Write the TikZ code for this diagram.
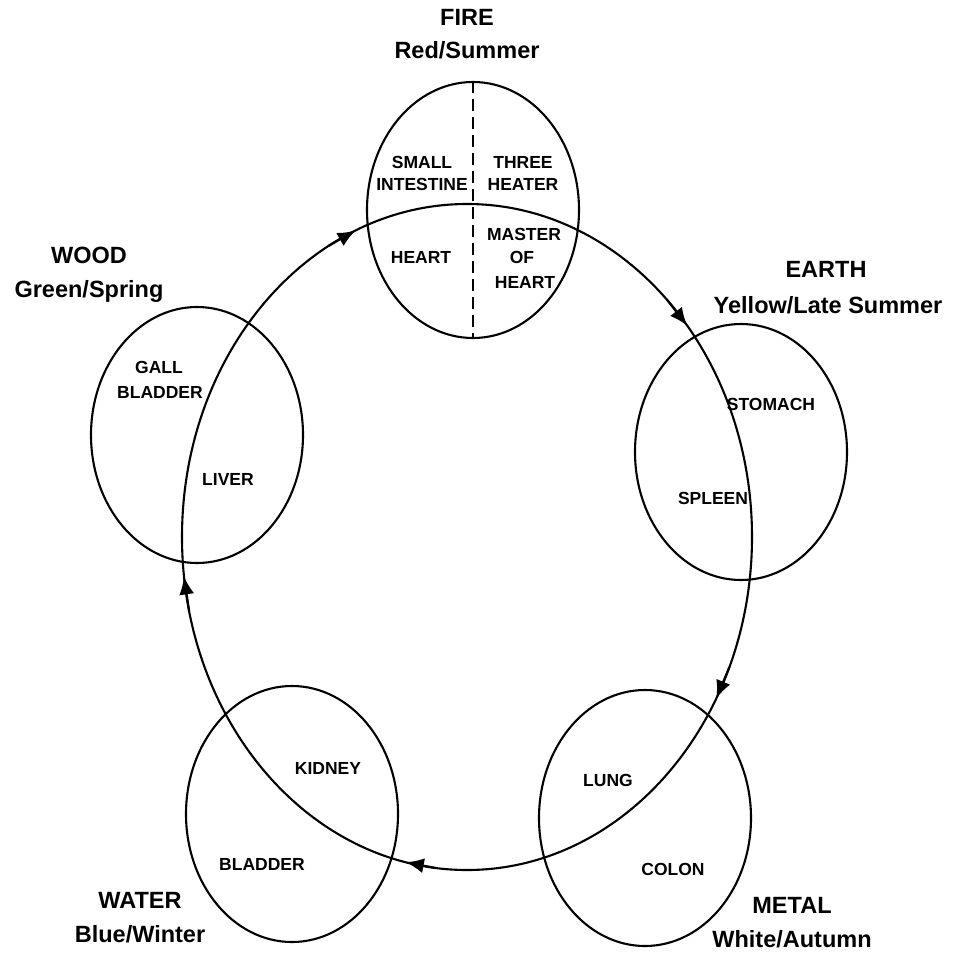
\documentclass[tikz,border=0pt]{standalone}
\usepackage{fontspec}
\setmainfont{Liberation Sans}
\usetikzlibrary{shapes.geometric,arrows.meta}
\newcommand\cycarrow[1]{\draw[cyctip] ({467+285*cos(#1+6)},{537-333*sin(#1+6)}) -- ({467+285*cos(#1)},{537-333*sin(#1)});}
\begin{document}
\begin{tikzpicture}[x=1pt,y=-1pt,
  organ/.style={draw=black, line width=2.1pt, ellipse, minimum width=212pt, minimum height=256pt, inner sep=0pt},
  eltitle/.style={font=\bfseries\fontsize{23.5}{28}\selectfont, anchor=base, inner sep=0pt},
  lbl/.style={font=\bfseries\fontsize{17.5}{21}\selectfont, inner sep=0pt},
  cyc/.style={line width=2.1pt},
  cyctip/.style={-{Latex[length=18pt,width=15pt]}, line width=2.1pt}]
\useasboundingbox[fill=white] (0,0) rectangle (960,955);

% element circles
\node[organ] (fire)  at (473,210) {};
\node[organ] (earth) at (741,452) {};
\node[organ] (wood)  at (197,435) {};
\node[organ] (water) at (292,814) {};
\node[organ] (metal) at (645,818) {};

% cycle
\coordinate (cc) at (467,537);
\draw[cyc] (cc) ellipse [x radius=285, y radius=333];
\cycarrow{113}
\cycarrow{39.4}
\cycarrow{-29}
\cycarrow{257.6}
\cycarrow{186.8}

% fire divider
\draw[line width=2.1pt, dash pattern=on 12pt off 6pt] (fire.north) -- (fire.south);

% titles
\node[eltitle] (tfire1) at (467,26) {FIRE};
\node[eltitle] (tfire2) at (467,59) {Red/Summer};
\node[eltitle] (tearth1) at (826,277) {EARTH};
\node[eltitle] (tearth2) at (828,313) {Yellow/Late Summer};
\node[eltitle] (twood1) at (89,263) {WOOD};
\node[eltitle] (twood2) at (89,297) {Green/Spring};
\node[eltitle] (twater1) at (140,908) {WATER};
\node[eltitle] (twater2) at (140,942) {Blue/Winter};
\node[eltitle] (tmetal1) at (792,913) {METAL};
\node[eltitle] (tmetal2) at (792,947) {White/Autumn};

% organ labels
\node[lbl] (si1) at (422,162) {SMALL};
\node[lbl] (si2) at (422,184) {INTESTINE};
\node[lbl] (th1) at (523,162) {THREE};
\node[lbl] (th2) at (523,184) {HEATER};
\node[lbl] (heart) at (421,257) {HEART};
\node[lbl] (mh1) at (524,234) {MASTER};
\node[lbl] (mh2) at (522,257) {OF};
\node[lbl] (mh3) at (525,282) {HEART};
\node[lbl] (stomach) at (771,404) {STOMACH};
\node[lbl] (spleen) at (713,498) {SPLEEN};
\node[lbl] (gb1) at (159,367) {GALL};
\node[lbl] (gb2) at (160,392) {BLADDER};
\node[lbl] (liver) at (228,479) {LIVER};
\node[lbl] (kidney) at (328,768) {KIDNEY};
\node[lbl] (bladder) at (262,864) {BLADDER};
\node[lbl] (lung) at (608,780) {LUNG};
\node[lbl] (colon) at (673,869) {COLON};
\end{tikzpicture}
\end{document}
